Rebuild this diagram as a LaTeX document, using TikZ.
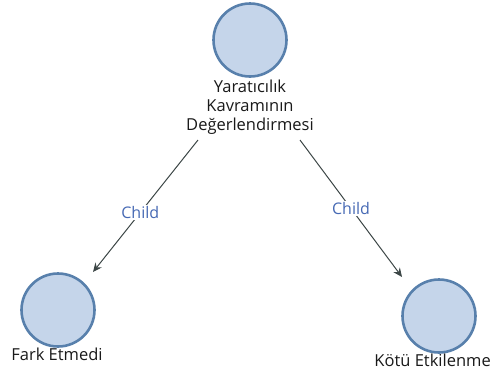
\documentclass[tikz,border=0pt]{standalone}
\usepackage{fontspec}
\setmainfont{Open Sans}
\usetikzlibrary{arrows.meta}
\definecolor{circfill}{RGB}{197,213,234}
\definecolor{circdraw}{RGB}{88,128,172}
\definecolor{edgecol}{RGB}{60,70,70}
\definecolor{labcol}{RGB}{70,105,180}
\begin{document}
\begin{tikzpicture}[x=1pt,y=-1pt,
  vert/.style={circle,fill=circfill,draw=circdraw,line width=2.6pt,minimum size=73pt,inner sep=0pt},
  vlabel/.style={font=\fontsize{16.5}{19}\selectfont,text=black!90,align=center,inner sep=0pt},
  edge/.style={draw=edgecol,line width=1pt,-{Stealth[length=9pt,width=8pt,inset=3pt]}},
  elabel/.style={font=\fontsize{16}{18}\selectfont,text=labcol,fill=white,inner sep=1pt}]
\useasboundingbox (0,0) rectangle (492,378);
\node[vert] (top) at (250,40) {};
\node[vert] (left) at (58,310) {};
\node[vert] (right) at (439,316) {};
\node[vlabel,anchor=north] (toplab) at (250,80) {Yaratıcılık\\Kavramının\\Değerlendirmesi};
\node[vlabel,anchor=north] (leftlab) at (57,348) {Fark Etmedi};
\node[vlabel,anchor=north east] (rightlab) at (491,354) {Kötü Etkilenme};
\coordinate (ls) at (198,140);
\coordinate (le) at (93,272);
\coordinate (rs) at (300,140);
\coordinate (re) at (402,277);
\draw[edge] (ls) -- node[elabel,pos=0.55] (lc) {Child} (le);
\draw[edge] (rs) -- node[elabel,pos=0.5] (rc) {Child} (re);
\end{tikzpicture}
\end{document}
